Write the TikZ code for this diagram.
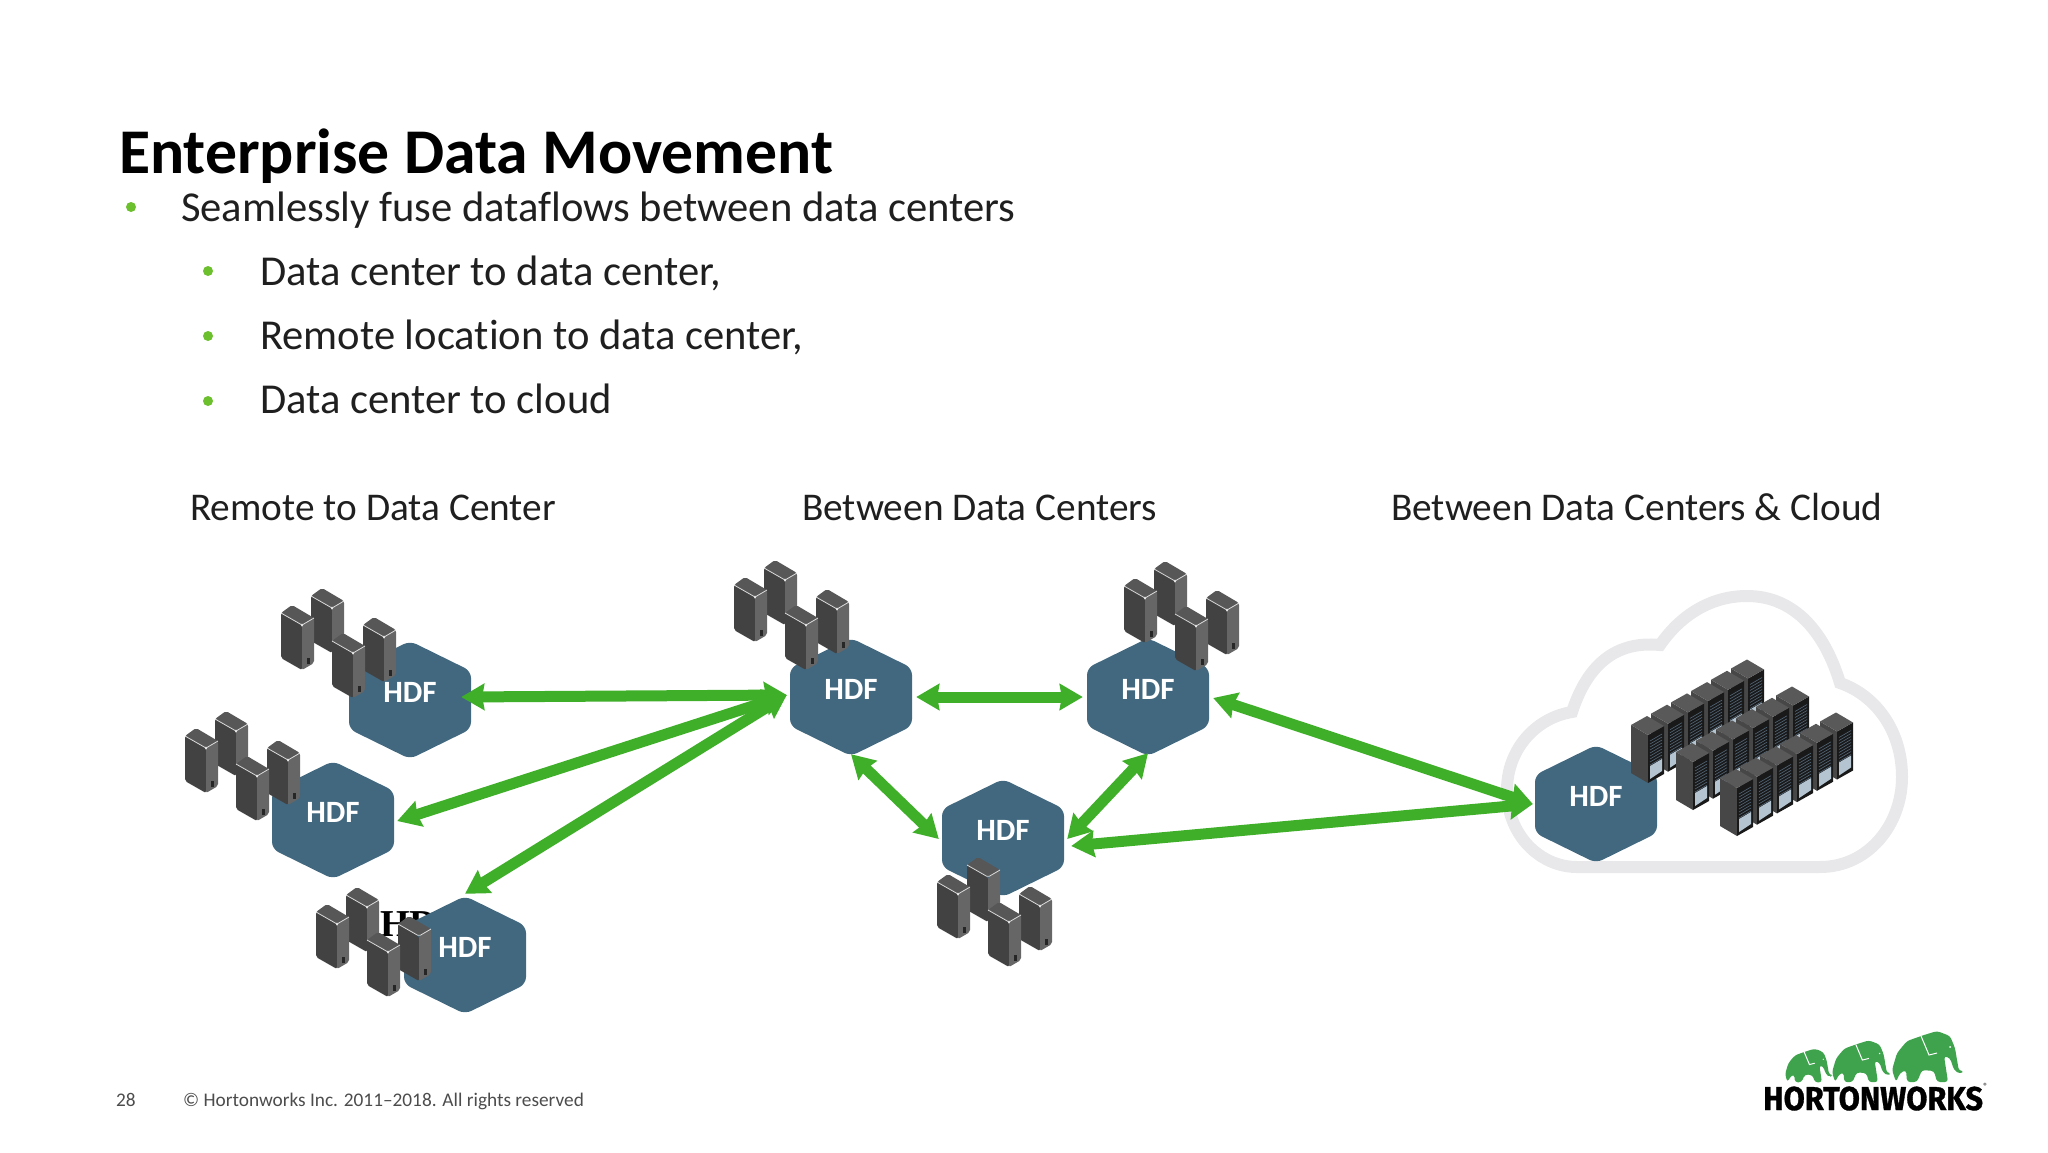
\documentclass[tikz,border=0pt]{standalone}
\usepackage{fontspec}
\setmainfont[Ligatures=NoCommon]{Carlito}
\newfontfamily\logofont[BoldFeatures={FakeBold=1}]{Fira Sans}
\newfontfamily\leftoverfont{Liberation Serif}
\usetikzlibrary{positioning,calc,arrows.meta}

\definecolor{hdfblue}{HTML}{42687F}
\definecolor{linkgreen}{HTML}{3FAE29}
\definecolor{bulletgreen}{HTML}{6CBF2D}
\definecolor{cloudgrey}{HTML}{E8E8EA}
\definecolor{logogreen}{HTML}{3FA34D}
\definecolor{rackpanel}{HTML}{B4C4D0}
\definecolor{rackslot}{HTML}{54687A}

\tikzset{
	hdf/.style={minimum width=122pt, minimum height=118pt, inner sep=0pt, text=white,
		font=\fontsize{31}{31}\selectfont\bfseries, text height=18pt, text depth=13pt,
		path picture={
			\fill[hdfblue, rounded corners=7pt]
			(path picture bounding box.north)
			-- ([yshift=-30pt]path picture bounding box.north east)
			-- ([yshift=30pt]path picture bounding box.south east)
			-- (path picture bounding box.south)
			-- ([yshift=30pt]path picture bounding box.south west)
			-- ([yshift=-30pt]path picture bounding box.north west)
			-- cycle;
		}},
	link/.style={linkgreen, line width=11pt, -{Stealth[inset=2pt,length=23pt,width=26pt]}},
	both/.style={link, {Stealth[inset=2pt,length=23pt,width=26pt]}-{Stealth[inset=2pt,length=23pt,width=26pt]}},
	head/.style={font=\fontsize{39.3}{39.3}\selectfont, text=black!88, inner sep=0pt, anchor=base west},
	item/.style={font=\fontsize{42.6}{42.6}\selectfont, text=black!88, inner sep=0pt, anchor=base west},
	dot/.style={circle, fill=bulletgreen, minimum size=10pt, inner sep=0pt},
	tower/.pic={
		\fill[black!74, rounded corners=2pt] (0,0) -- (21,12) -- (21,57) -- (0,45) -- cycle;
		\fill[black!60, rounded corners=2pt] (21,12) -- (33,5) -- (33,50) -- (21,57) -- cycle;
		\fill[black!66, rounded corners=2pt] (0,0) -- (11,-8) -- (33,5) -- (21,12) -- cycle;
		\draw[black!15, line width=.8pt, rounded corners=1.5pt] (0,0) -- (21,12) -- (33,5);
		\fill[black!85] (26,45) rectangle (29,51);
	},
	towers/.pic={
		\pic at (30,-17) {tower};
		\pic at (0,0) {tower};
		\pic at (82,12) {tower};
		\pic at (51,28) {tower};
	},
	rack/.pic={
		\fill[black!72] (0,0) -- (17,10) -- (17,58) -- (0,48) -- cycle;
		\fill[black!90] (17,10) -- (33,1) -- (33,49) -- (17,58) -- cycle;
		\fill[black!65] (0,0) -- (16,-9) -- (33,1) -- (17,10) -- cycle;
		\fill[rackpanel] (19,41) -- (31,34) -- (31,46) -- (19,54) -- cycle;
		\foreach \s in {0,3,...,24} {
			\draw[rackslot, line width=.6pt] (19,16+\s) -- (31,9+\s);
		}
	},
	rackrow/.pic={
		\foreach \r in {5,4,...,0} {
			\pic at (20*\r,-11.3*\r) {rack};
		}
	},
	elephant/.pic={
		\fill[logogreen, rounded corners=3pt] (4,-1) -- (0,-13) -- (5,-30) -- (15,-42) -- (32,-48)
		-- (45,-52) -- (58,-47) -- (63,-35) -- (65,-23) -- (67,-12) -- (72,-12) -- (68,-9)
		-- (62,-13) -- (58,-25) -- (52,-27) -- (56,-1) -- (45,-1) -- (42,-12) -- (30,-13)
		-- (25,-1) -- (15,-1) -- (14,-13) -- (8,-10) -- cycle;
		\draw[white, line width=1pt] (29,-47) -- (37,-28) -- (45,-30);
		\fill[white] (58,-36) circle (1pt);
	}
}

\begin{document}
\begin{tikzpicture}[x=1pt,y=-1pt]
	\useasboundingbox (0,0) rectangle (2048,1152);

	% slide texts
	\node[inner sep=0pt, anchor=base west, font=\fontsize{63.7}{63.7}\selectfont\bfseries] (title) at (119,173) {Enterprise Data Movement};
	\node[item] (flows) at (181,221) {Seamlessly fuse dataflows between data centers};
	\node[item] (dcdc) at (260,285) {Data center to data center,};
	\node[item] (rdc) at (260,349) {Remote location to data center,};
	\node[item] (dcc) at (260,413) {Data center to cloud};
	\node[dot] (dflows) at (131,207) {};
	\node[dot] (ddcdc) at (208,271) {};
	\node[dot] (drdc) at (208,336) {};
	\node[dot] (ddcc) at (208,401) {};

	\node[head] (hremote) at (190,520) {Remote to Data Center};
	\node[head] (hbetween) at (802,520) {Between Data Centers};
	\node[head] (hcloud) at (1391,520) {Between Data Centers \& Cloud};

	% cloud
	\draw[cloudgrey, line width=12pt] (1577,867) -- (1820,867)
	.. controls (1868,867) and (1902,825) .. (1902,777)
	.. controls (1902,730) and (1875,695) .. (1840,683)
	.. controls (1825,633) and (1795,596) .. (1747,596)
	.. controls (1710,596) and (1680,616) .. (1660,645)
	.. controls (1610,640) and (1585,672) .. (1572,712)
	.. controls (1535,718) and (1507,750) .. (1507,790)
	.. controls (1507,835) and (1540,867) .. (1577,867) -- cycle;

	% leftover text behind the third hexagon
	\node[inner sep=0pt, anchor=base west, font=\leftoverfont\fontsize{38}{38}\selectfont\bfseries, text=black] (stray) at (380,936) {HDF};

	% hexagons
	\node[hdf] (hdfa) at (410,700) {HDF};
	\node[hdf] (hdfb) at (333,820) {HDF};
	\node[hdf] (hdfc) at (465,955) {HDF};
	\node[hdf] (hub) at (851,697) {HDF};
	\node[hdf] (hdfe) at (1148,697) {HDF};
	\node[hdf] (hdff) at (1003,838) {HDF};
	\node[hdf] (hdfg) at (1596,804) {HDF};

	% connectors
	\draw[both] ([shift={(-3,-2)}]hub.west) -- ([shift={(-10,0)}]hdfa.east |- hub.west);
	\draw[both] ([shift={(-3,-2)}]hub.west) -- ([shift={(3,1)}]hdfb.east);
	\draw[both] ([shift={(-3,-2)}]hub.west) -- ([yshift=2pt]hdfc.north);
	\draw[both] ([xshift=4pt]hub.east) -- ([xshift=-4pt]hdfe.west);
	\draw[both] ([yshift=2pt]hub.south) -- ([shift={(-3,1)}]hdff.west);
	\draw[both] ([yshift=3pt]hdfe.south) -- ([shift={(3,1)}]hdff.east);
	\draw[both] ([xshift=-2pt]hdfg.west) -- ([shift={(4,1)}]hdfe.east);
	\draw[both] ([xshift=-2pt]hdfg.west) -- ([shift={(7,8)}]hdff.east);

	% servers
	\pic at (281,613) {towers};
	\pic at (185,736) {towers};
	\pic at (316,912) {towers};
	\pic at (734,585) {towers};
	\pic at (1124,586) {towers};
	\pic at (937,882) {towers};

	\pic at (1631,725) {rackrow};
	\pic at (1676,752) {rackrow};
	\pic at (1720,778) {rackrow};

	% footer
	\node[inner sep=0pt, anchor=base west, font=\fontsize{19.3}{19.3}\selectfont, text=black!70] (page) at (116,1106) {28};
	\node[inner sep=0pt, anchor=base west, font=\fontsize{19.3}{19.3}\selectfont, text=black!70] (copy) at (183,1106) {© Hortonworks Inc. 2011–2018. All rights reserved};

	% logo
	\pic[scale=.66] at (1785,1083) {elephant};
	\pic[scale=.82] at (1832,1083) {elephant};
	\pic at (1892,1083) {elephant};
	\node[inner sep=0pt, anchor=base west, font=\logofont\fontsize{33}{33}\selectfont\bfseries] (logo) at (1763,1110) {\scalebox{.93}[1]{HORTONWORKS}};
	\node[inner sep=0pt, right=0pt of logo.north east, font=\fontsize{9}{9}\selectfont] (reg) {®};
\end{tikzpicture}
\end{document}
